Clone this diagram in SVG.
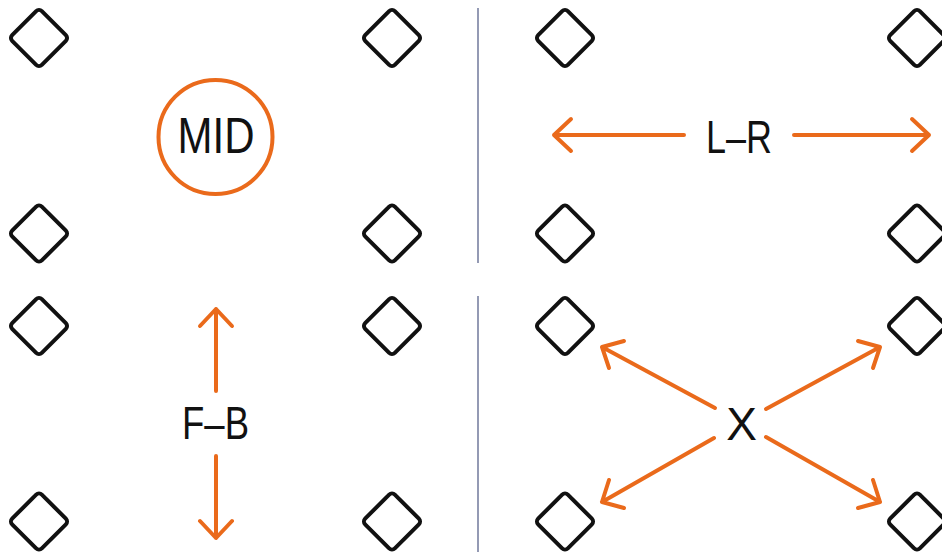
<svg xmlns="http://www.w3.org/2000/svg" width="942" height="552" viewBox="0 0 942 552">
<style>
.dia{fill:none;stroke:#111;stroke-width:4;stroke-linejoin:round}
.arr{fill:none;stroke:#EA6A1B;stroke-width:4;stroke-linecap:round;stroke-linejoin:round}
.div{stroke:#949AB4;stroke-width:2}
.lbl{font-family:"Liberation Sans",Arial,sans-serif;fill:#111;text-anchor:middle}
</style>
<defs>
<rect id="d" x="-21" y="-21" width="42" height="42" rx="4" transform="rotate(45)"/>
</defs>
<rect width="942" height="552" fill="#fff"/>
<g id="dividers">
<line class="div" x1="478" y1="8" x2="478" y2="263"/>
<line class="div" x1="478" y1="296" x2="478" y2="552"/>
</g>
<g id="diamonds" class="dia">
<g id="n1"><use href="#d" x="39" y="38"/></g>
<g id="n2"><use href="#d" x="392" y="38"/></g>
<g id="n3"><use href="#d" x="39" y="233.5"/></g>
<g id="n4"><use href="#d" x="392" y="233.5"/></g>
<g id="n5"><use href="#d" x="565" y="38"/></g>
<g id="n6"><use href="#d" x="917" y="38"/></g>
<g id="n7"><use href="#d" x="565" y="233.5"/></g>
<g id="n8"><use href="#d" x="917" y="233.5"/></g>
<g id="n9"><use href="#d" x="39" y="326"/></g>
<g id="n10"><use href="#d" x="392" y="326"/></g>
<g id="n11"><use href="#d" x="39" y="521.5"/></g>
<g id="n12"><use href="#d" x="392" y="521.5"/></g>
<g id="n13"><use href="#d" x="565" y="326"/></g>
<g id="n14"><use href="#d" x="917" y="326"/></g>
<g id="n15"><use href="#d" x="565" y="521.5"/></g>
<g id="n16"><use href="#d" x="917" y="521.5"/></g>
</g>
<g id="mid">
<circle cx="215.5" cy="137" r="57" fill="none" stroke="#EA6A1B" stroke-width="4"/>
<text class="lbl" x="216" y="153" font-size="50" textLength="77" lengthAdjust="spacingAndGlyphs">MID</text>
</g>
<g id="lr">
<text class="lbl" x="739" y="153" font-size="47" textLength="66" lengthAdjust="spacingAndGlyphs">L–R</text>
</g>
<g id="fb">
<text class="lbl" x="215.5" y="439" font-size="46" textLength="67" lengthAdjust="spacingAndGlyphs">F–B</text>
</g>
<g id="x">
<text class="lbl" x="741.5" y="440" font-size="46">X</text>
</g>
<g id="connectors" class="arr">
<path d="M684 135H554M571 119L554 135L571 151"/>
<path d="M794 135H929M912 119L929 135L912 151"/>
<path d="M216 391V309M200 326L216 309L232 326"/>
<path d="M216 456V538M200 521L216 538L232 521"/>
<path d="M715 408L602 347M624 341L602 347L609 368"/>
<path d="M766 409L880 347M858 341L880 347L873 368"/>
<path d="M714 438L602 502M609 480L602 502L624 508"/>
<path d="M766 437L880 502M873 480L880 502L858 508"/>
</g>
</svg>
